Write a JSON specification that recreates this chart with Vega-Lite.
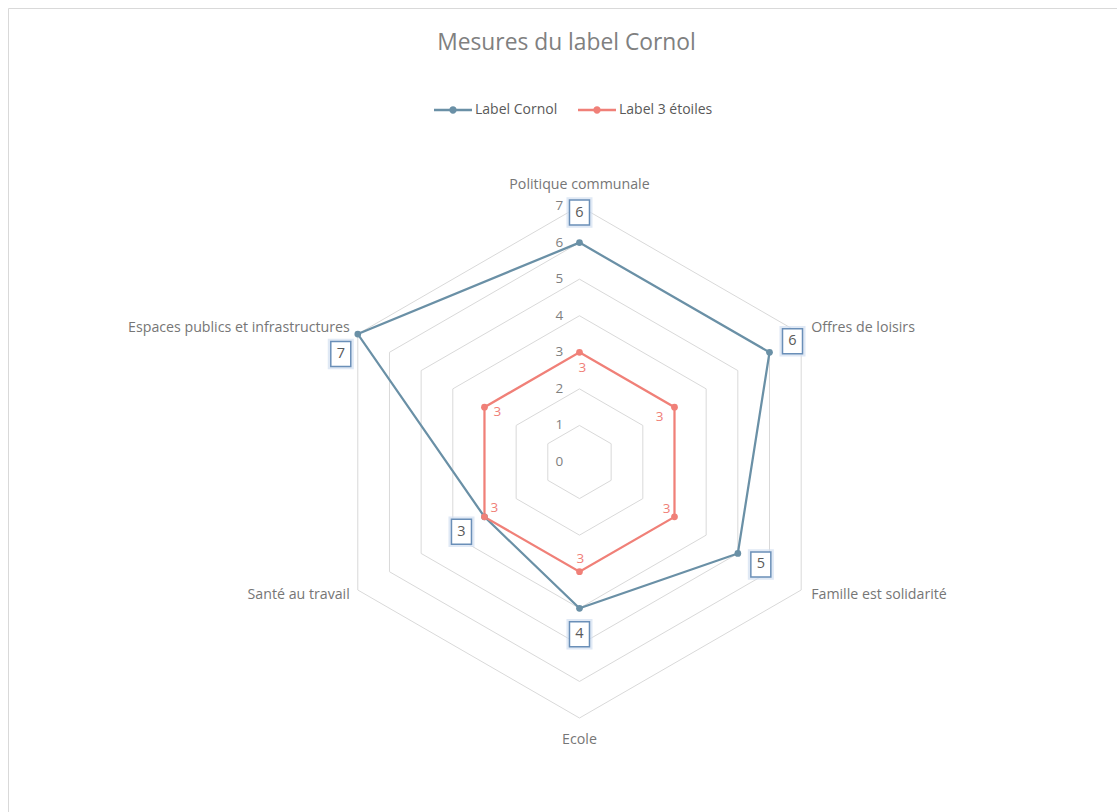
{
  "$schema": "https://vega.github.io/schema/vega-lite/v6.json",
  "width": 1117,
  "height": 812,
  "autosize": {"type": "none"},
  "padding": {"left": 8, "top": 8, "right": 0, "bottom": 0},
  "background": "white",
  "config": {"view": {"stroke": "#d9d9d9", "strokeWidth": 1}, "font": "Open Sans"},
  "title": {"text": "Mesures du label Cornol", "anchor": "middle", "frame": "group", "font": "Open Sans", "fontSize": 22.8, "fontWeight": "normal", "color": "#808080", "offset": 0, "baseline": "middle", "dy": 58},
  "datasets": {
    "series": [
      {"serie": "Label Cornol", "axe": "Politique communale", "valeur": 6},
      {"serie": "Label Cornol", "axe": "Offres de loisirs", "valeur": 6},
      {"serie": "Label Cornol", "axe": "Famille est solidarité", "valeur": 5},
      {"serie": "Label Cornol", "axe": "Ecole", "valeur": 4},
      {"serie": "Label Cornol", "axe": "Santé au travail", "valeur": 3},
      {"serie": "Label Cornol", "axe": "Espaces publics et infrastructures", "valeur": 7},
      {"serie": "Label 3 étoiles", "axe": "Politique communale", "valeur": 3},
      {"serie": "Label 3 étoiles", "axe": "Offres de loisirs", "valeur": 3},
      {"serie": "Label 3 étoiles", "axe": "Famille est solidarité", "valeur": 3},
      {"serie": "Label 3 étoiles", "axe": "Ecole", "valeur": 3},
      {"serie": "Label 3 étoiles", "axe": "Santé au travail", "valeur": 3},
      {"serie": "Label 3 étoiles", "axe": "Espaces publics et infrastructures", "valeur": 3}
    ],
    "grille": [
      {"axe": "Politique communale", "niveau": [1, 2, 3, 4, 5, 6, 7]},
      {"axe": "Offres de loisirs", "niveau": [1, 2, 3, 4, 5, 6, 7]},
      {"axe": "Famille est solidarité", "niveau": [1, 2, 3, 4, 5, 6, 7]},
      {"axe": "Ecole", "niveau": [1, 2, 3, 4, 5, 6, 7]},
      {"axe": "Santé au travail", "niveau": [1, 2, 3, 4, 5, 6, 7]},
      {"axe": "Espaces publics et infrastructures", "niveau": [1, 2, 3, 4, 5, 6, 7]}
    ],
    "niveaux": [
      {"niveau": 0}, {"niveau": 1}, {"niveau": 2}, {"niveau": 3},
      {"niveau": 4}, {"niveau": 5}, {"niveau": 6}, {"niveau": 7}
    ],
    "axes": [
      {"axe": "Politique communale"},
      {"axe": "Offres de loisirs"},
      {"axe": "Famille est solidarité"},
      {"axe": "Ecole"},
      {"axe": "Santé au travail"},
      {"axe": "Espaces publics et infrastructures"}
    ]
  },
  "encoding": {
    "x": {"field": "X", "type": "quantitative", "scale": {"domain": [-15.627, 14.917], "nice": false, "zero": false}, "axis": null},
    "y": {"field": "Y", "type": "quantitative", "scale": {"domain": [-9.789, 12.415], "nice": false, "zero": false}, "axis": null}
  },
  "layer": [
    {
      "data": {"name": "grille"},
      "transform": [
        {"flatten": ["niveau"]},
        {"calculate": "indexof(['Politique communale','Offres de loisirs','Famille est solidarité','Ecole','Santé au travail','Espaces publics et infrastructures'], datum.axe)", "as": "idx"},
        {"calculate": "PI/2 - datum.idx*PI/3", "as": "a"},
        {"calculate": "datum.niveau*cos(datum.a)", "as": "X"},
        {"calculate": "datum.niveau*sin(datum.a)", "as": "Y"}
      ],
      "mark": {"type": "line", "interpolate": "linear-closed", "stroke": "#d9d9d9", "strokeWidth": 1},
      "encoding": {
        "detail": {"field": "niveau", "type": "nominal"},
        "order": {"field": "idx", "type": "quantitative"}
      }
    },
    {
      "data": {"name": "niveaux"},
      "transform": [
        {"calculate": "0", "as": "X"},
        {"calculate": "datum.niveau", "as": "Y"}
      ],
      "mark": {"type": "text", "dx": -20, "align": "center", "baseline": "middle", "fontSize": 13.5, "color": "#7f7f7f", "font": "Open Sans"},
      "encoding": {"text": {"field": "niveau", "type": "quantitative"}}
    },
    {
      "data": {"name": "series"},
      "transform": [
        {"calculate": "indexof(['Politique communale','Offres de loisirs','Famille est solidarité','Ecole','Santé au travail','Espaces publics et infrastructures'], datum.axe)", "as": "idx"},
        {"calculate": "PI/2 - datum.idx*PI/3", "as": "a"},
        {"calculate": "datum.valeur*cos(datum.a)", "as": "X"},
        {"calculate": "datum.valeur*sin(datum.a)", "as": "Y"}
      ],
      "mark": {"type": "line", "interpolate": "linear-closed", "strokeWidth": 2.25},
      "encoding": {
        "color": {
          "field": "serie", "type": "nominal",
          "scale": {"domain": ["Label Cornol", "Label 3 étoiles"], "range": ["#6a90a6", "#f08078"]},
          "legend": {
            "orient": "none", "legendX": 426, "legendY": 83, "direction": "horizontal", "title": null,
            "symbolType": "M-1,-0.06H1V0.06H-1Z M-0.195,0A0.195,0.195 0 1 1 0.195,0A0.195,0.195 0 1 1 -0.195,0Z",
            "symbolSize": 1444, "symbolStrokeWidth": 0, "symbolOpacity": 1,
            "labelFont": "Open Sans", "labelFontSize": 14, "labelColor": "#595959", "labelOffset": 3,
            "columnPadding": 20, "padding": 0,
            "encode": {"symbols": {"update": {"fill": {"scale": "color", "field": "value"}, "strokeWidth": {"value": 0}}}}
          }
        },
        "detail": {"field": "serie", "type": "nominal"},
        "order": {"field": "idx", "type": "quantitative"}
      }
    },
    {
      "data": {"name": "series"},
      "transform": [
        {"calculate": "indexof(['Politique communale','Offres de loisirs','Famille est solidarité','Ecole','Santé au travail','Espaces publics et infrastructures'], datum.axe)", "as": "idx"},
        {"calculate": "PI/2 - datum.idx*PI/3", "as": "a"},
        {"calculate": "datum.valeur*cos(datum.a)", "as": "X"},
        {"calculate": "datum.valeur*sin(datum.a)", "as": "Y"}
      ],
      "mark": {"type": "point", "filled": true, "size": 45, "opacity": 1},
      "encoding": {
        "color": {
          "field": "serie", "type": "nominal",
          "scale": {"domain": ["Label Cornol", "Label 3 étoiles"], "range": ["#6a90a6", "#f08078"]},
          "legend": {
            "orient": "none", "legendX": 426, "legendY": 83, "direction": "horizontal", "title": null,
            "symbolType": "M-1,-0.06H1V0.06H-1Z M-0.195,0A0.195,0.195 0 1 1 0.195,0A0.195,0.195 0 1 1 -0.195,0Z",
            "symbolSize": 1444, "symbolStrokeWidth": 0, "symbolOpacity": 1,
            "labelFont": "Open Sans", "labelFontSize": 14, "labelColor": "#595959", "labelOffset": 3,
            "columnPadding": 20, "padding": 0,
            "encode": {"symbols": {"update": {"fill": {"scale": "color", "field": "value"}, "strokeWidth": {"value": 0}}}}
          }
        }
      }
    },
    {
      "data": {"name": "series"},
      "transform": [
        {"filter": "datum.serie == 'Label Cornol'"},
        {"calculate": "indexof(['Politique communale','Offres de loisirs','Famille est solidarité','Ecole','Santé au travail','Espaces publics et infrastructures'], datum.axe)", "as": "idx"},
        {"calculate": "PI/2 - datum.idx*PI/3", "as": "a"},
        {"calculate": "datum.valeur*cos(datum.a) + [0,23,23,0,-23,-17][datum.idx]/36.57", "as": "X"},
        {"calculate": "datum.valeur*sin(datum.a) - [-30,-11,11,26,15,20][datum.idx]/36.57", "as": "Y"}
      ],
      "mark": {"type": "point", "shape": "M-0.84,-1H0.84V1H-0.84Z", "size": 784, "filled": false, "stroke": "#d3e0f2", "strokeWidth": 2.5, "opacity": 0.7}
    },
    {
      "data": {"name": "series"},
      "transform": [
        {"filter": "datum.serie == 'Label Cornol'"},
        {"calculate": "indexof(['Politique communale','Offres de loisirs','Famille est solidarité','Ecole','Santé au travail','Espaces publics et infrastructures'], datum.axe)", "as": "idx"},
        {"calculate": "PI/2 - datum.idx*PI/3", "as": "a"},
        {"calculate": "datum.valeur*cos(datum.a) + [0,23,23,0,-23,-17][datum.idx]/36.57", "as": "X"},
        {"calculate": "datum.valeur*sin(datum.a) - [-30,-11,11,26,15,20][datum.idx]/36.57", "as": "Y"}
      ],
      "mark": {"type": "point", "shape": "M-0.8,-1H0.8V1H-0.8Z", "size": 625, "filled": true, "fill": "white", "stroke": "#6a8fb8", "strokeWidth": 1.5, "opacity": 1}
    },
    {
      "data": {"name": "series"},
      "transform": [
        {"filter": "datum.serie == 'Label Cornol'"},
        {"calculate": "indexof(['Politique communale','Offres de loisirs','Famille est solidarité','Ecole','Santé au travail','Espaces publics et infrastructures'], datum.axe)", "as": "idx"},
        {"calculate": "PI/2 - datum.idx*PI/3", "as": "a"},
        {"calculate": "datum.valeur*cos(datum.a) + [0,23,23,0,-23,-17][datum.idx]/36.57", "as": "X"},
        {"calculate": "datum.valeur*sin(datum.a) - [-30,-11,11,26,15,20][datum.idx]/36.57", "as": "Y"}
      ],
      "mark": {"type": "text", "align": "center", "baseline": "middle", "fontSize": 14.5, "color": "#595959", "font": "Open Sans"},
      "encoding": {"text": {"field": "valeur", "type": "quantitative"}}
    },
    {
      "data": {"name": "series"},
      "transform": [
        {"filter": "datum.serie == 'Label 3 étoiles'"},
        {"calculate": "indexof(['Politique communale','Offres de loisirs','Famille est solidarité','Ecole','Santé au travail','Espaces publics et infrastructures'], datum.axe)", "as": "idx"},
        {"calculate": "PI/2 - datum.idx*PI/3", "as": "a"},
        {"calculate": "datum.valeur*cos(datum.a) + [3,-15,-8,1,10,13][datum.idx]/36.57", "as": "X"},
        {"calculate": "datum.valeur*sin(datum.a) - [16,10,-8,-13,-9,5][datum.idx]/36.57", "as": "Y"}
      ],
      "mark": {"type": "text", "align": "center", "baseline": "middle", "fontSize": 13.5, "color": "#f08078", "font": "Open Sans"},
      "encoding": {"text": {"field": "valeur", "type": "quantitative"}}
    },
    {
      "data": {"name": "axes"},
      "transform": [
        {"calculate": "indexof(['Politique communale','Offres de loisirs','Famille est solidarité','Ecole','Santé au travail','Espaces publics et infrastructures'], datum.axe)", "as": "idx"},
        {"filter": "datum.idx == 0 || datum.idx == 3"},
        {"calculate": "PI/2 - datum.idx*PI/3", "as": "a"},
        {"calculate": "7*cos(datum.a) + [0,10,10,0,-8,-8][datum.idx]/36.57", "as": "X"},
        {"calculate": "7*sin(datum.a) - [-21,-6,5,22,5,-6][datum.idx]/36.57", "as": "Y"}
      ],
      "mark": {"type": "text", "align": "center", "baseline": "middle", "fontSize": 14.2, "color": "#767676", "font": "Open Sans"},
      "encoding": {"text": {"field": "axe", "type": "nominal"}}
    },
    {
      "data": {"name": "axes"},
      "transform": [
        {"calculate": "indexof(['Politique communale','Offres de loisirs','Famille est solidarité','Ecole','Santé au travail','Espaces publics et infrastructures'], datum.axe)", "as": "idx"},
        {"filter": "datum.idx == 1 || datum.idx == 2"},
        {"calculate": "PI/2 - datum.idx*PI/3", "as": "a"},
        {"calculate": "7*cos(datum.a) + [0,10,10,0,-8,-8][datum.idx]/36.57", "as": "X"},
        {"calculate": "7*sin(datum.a) - [-21,-6,5,22,5,-6][datum.idx]/36.57", "as": "Y"}
      ],
      "mark": {"type": "text", "align": "left", "baseline": "middle", "fontSize": 14.2, "color": "#767676", "font": "Open Sans"},
      "encoding": {"text": {"field": "axe", "type": "nominal"}}
    },
    {
      "data": {"name": "axes"},
      "transform": [
        {"calculate": "indexof(['Politique communale','Offres de loisirs','Famille est solidarité','Ecole','Santé au travail','Espaces publics et infrastructures'], datum.axe)", "as": "idx"},
        {"filter": "datum.idx == 4 || datum.idx == 5"},
        {"calculate": "PI/2 - datum.idx*PI/3", "as": "a"},
        {"calculate": "7*cos(datum.a) + [0,10,10,0,-8,-8][datum.idx]/36.57", "as": "X"},
        {"calculate": "7*sin(datum.a) - [-21,-6,5,22,5,-6][datum.idx]/36.57", "as": "Y"}
      ],
      "mark": {"type": "text", "align": "right", "baseline": "middle", "fontSize": 14.2, "color": "#767676", "font": "Open Sans"},
      "encoding": {"text": {"field": "axe", "type": "nominal"}}
    }
  ]
}
